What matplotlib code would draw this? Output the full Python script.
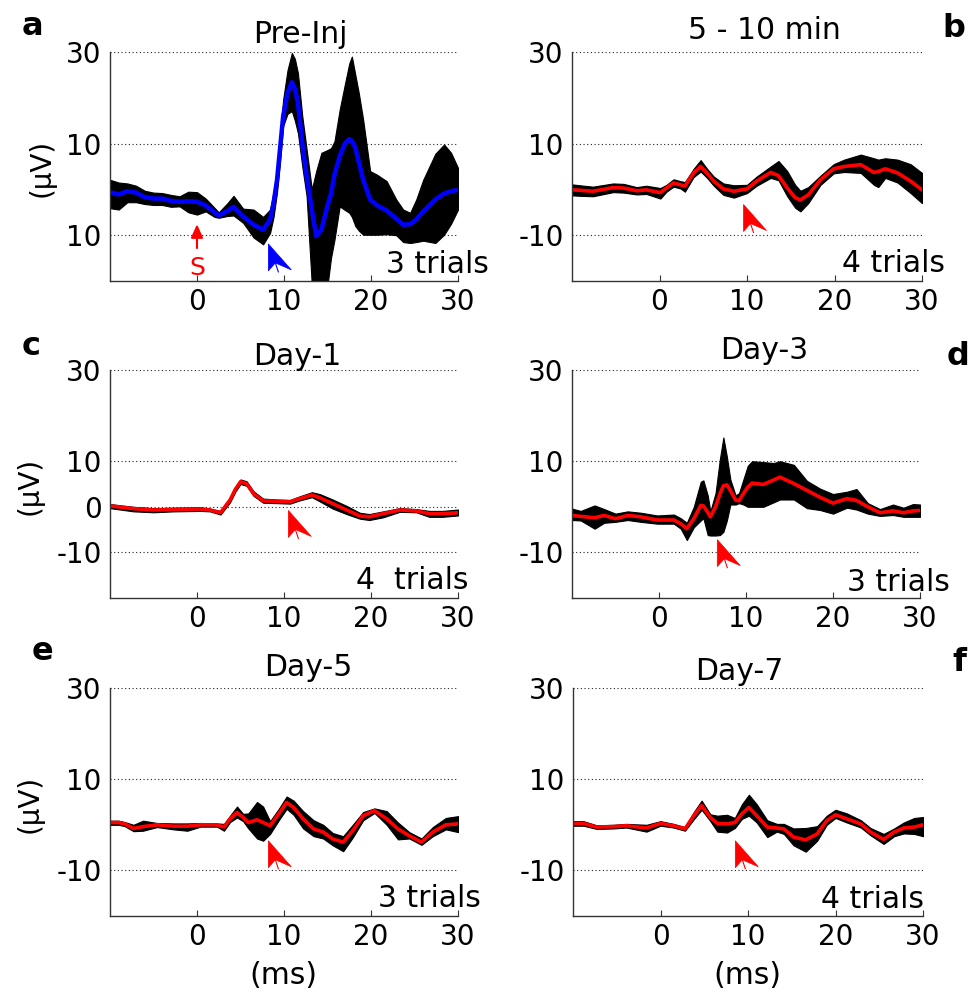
import numpy as np
import matplotlib
matplotlib.use("Agg")
import matplotlib.pyplot as plt
from matplotlib.patches import Polygon
from matplotlib import transforms

plt.rcParams['font.family'] = ['DejaVu Sans']

# ---------------- data (time in ms, amplitude in uV) ----------------
t_a = [-10, -9, -8, -7, -6, -5, -4, -3, -2, -1, 0, 1, 2, 2.5, 3.5, 4.2, 5.3, 6.5, 7.6, 8.4,
       8.8, 9.2, 9.55, 9.9, 10.4, 10.9, 11.25, 11.6, 12.1, 12.6, 13.2, 13.7, 14.3, 15.0, 15.4,
       15.8, 16.4, 17.0, 17.5, 17.8, 18.2, 18.6, 19.1, 19.9, 20.7, 21.8, 22.9, 23.7, 24.5, 25.2,
       26.0, 27.4, 28.4, 29.2, 30]
mean_a = [-0.6, -1.1, -0.4, -0.7, -1.7, -2.0, -2.0, -2.5, -2.7, -2.6, -2.7, -3.5, -5.0, -5.7, -4.7,
          -3.8, -5.9, -7.7, -8.8, -6.6, -3.0, 2.1, 9.0, 16.0, 21.0, 23.4, 22.0, 18.9, 10.1, 2.9,
          -4.5, -10.2, -8.8, -3.5, -1.0, 3.2, 7.2, 10.0, 11.0, 10.6, 9.1, 6.0, 2.1, -2.2, -3.5,
          -4.6, -6.4, -7.7, -7.6, -6.6, -4.8, -2.2, -0.9, -0.4, -0.1]
lo_a = [-4.1, -4.4, -2.8, -2.8, -3.2, -3.4, -3.4, -3.8, -3.7, -5.0, -5.5, -4.8, -6.0, -6.2, -5.8,
        -5.7, -7.3, -10.5, -12.0, -9.5, -6.0, -0.6, 6.0, 13.8, 16.5, 17.1, 15.0, 12.3, 5.0, -1.5,
        -21, -21, -21, -21, -15, -11, -3.7, -4.5, -5.1, -6.0, -8.0, -9.0, -9.9, -9.9, -9.9,
        -9.8, -10.0, -11.5, -11.7, -11.5, -11.2, -11.7, -9.9, -7.5, -4.4]
hi_a = [2.1, 1.5, 1.3, 0.8, -0.3, -0.7, -0.8, -1.2, -1.5, -0.5, -0.6, -2.0, -4.0, -5.0, -3.0,
        -1.4, -4.2, -4.4, -6.0, -4.4, -0.5, 3.6, 12.0, 19.6, 26.0, 29.8, 28.5, 25.4, 16.0, 8.7,
        0.0, 4.0, 8.0, 8.6, 9.0, 10.5, 17.4, 23.0, 27.5, 29.0, 25.0, 21.0, 15.2, 4.0, 3.2, 1.8,
        -2.2, -4.4, -5.1, -2.2, 2.1, 7.8, 9.8, 8.0, 4.7]

t_b = [-10, -9.1, -7.6, -5.3, -4.1, -2.6, -1.5, 0.1, 0.8, 1.6, 2.4, 2.9, 3.9, 4.7, 5.4, 6.2,
       7.3, 8.5, 10.0, 11.1, 12.7, 13.6, 14.6, 15.5, 16.1, 17.0, 18.4, 19.9, 21.1, 23.0, 24.5,
       25.0, 25.8, 27.2, 28.7, 30.0]
mean_b = [-0.1, -0.2, -0.4, 0.4, 0.3, -0.3, -0.1, -0.7, 0.3, 1.4, 1.0, 0.7, 3.6, 5.0, 3.6, 1.8,
          0.1, -0.4, 0.1, 1.8, 3.7, 3.0, 0.3, -1.8, -2.3, -1.2, 2.1, 4.5, 5.0, 5.4, 3.7, 3.9,
          4.5, 3.6, 1.8, -0.1]
lo_b = [-1.3, -1.4, -1.5, -0.6, -0.7, -1.1, -1.0, -2.0, -0.5, 0.6, 0.2, -0.5, 2.7, 3.9, 2.6, 0.8,
        -1.2, -1.8, -0.8, 0.8, 2.5, 2.0, -1.5, -4.0, -4.8, -3.0, 1.0, 3.5, 3.8, 3.6, 1.0, 0.5,
        2.5, 1.5, -0.8, -3.0]
hi_b = [1.1, 0.9, 0.6, 1.3, 1.2, 0.5, 0.8, 0.3, 1.0, 2.2, 1.8, 1.6, 4.5, 6.4, 4.6, 2.8, 1.3,
        0.9, 1.0, 2.8, 5.0, 6.2, 4.0, 1.0, -0.3, 0.5, 3.0, 5.5, 6.5, 7.6, 6.8, 6.5, 6.8, 6.5,
        5.5, 3.6]

t_c = [-10, -7.3, -5, -2.7, 0.4, 1.5, 2.7, 3.8, 4.4, 5.0, 5.7, 6.1, 6.5, 7.6, 9.2, 10.7, 11.8,
       13.2, 14.1, 15.6, 17.2, 18.7, 19.8, 21.4, 23.3, 25.2, 26.7, 28.2, 30]
mean_c = [0.2, -0.4, -0.7, -0.6, -0.5, -0.7, -1.3, 1.5, 3.8, 5.5, 5.1, 4.0, 2.9, 1.3, 1.2, 1.1,
          1.8, 2.6, 2.0, 0.7, -0.7, -2.0, -2.2, -1.5, -0.7, -0.9, -1.5, -1.5, -1.3]
lo_c = [-0.3, -1.0, -1.2, -1.0, -0.9, -1.0, -1.7, 1.0, 3.3, 5.0, 4.6, 3.5, 2.4, 0.9, 0.8, 0.7,
        1.4, 2.1, 1.2, -0.4, -1.6, -2.6, -2.9, -2.3, -1.1, -1.2, -2.2, -2.2, -1.9]
hi_c = [0.6, 0.0, -0.3, -0.2, -0.1, -0.4, -0.9, 2.0, 4.3, 6.0, 5.6, 4.5, 3.4, 1.8, 1.6, 1.5, 2.3,
        3.2, 2.8, 1.6, 0.2, -1.3, -1.6, -1.0, -0.3, -0.5, -0.9, -0.9, -0.6]

t_d = [-10, -9.0, -7.4, -6.3, -5.0, -3.6, -2.1, -0.2, 1.7, 2.5, 3.2, 4.0, 4.8, 5.1, 5.6, 5.9,
       6.5, 7.0, 7.4, 7.8, 8.2, 8.8, 9.2, 9.7, 10.2, 10.7, 12.0, 13.2, 13.9, 15.5, 17.0, 18.5,
       20.0, 21.6, 22.7, 24.0, 25.4, 26.9, 28.1, 29.2, 30]
mean_d = [-1.9, -2.1, -2.4, -1.9, -2.6, -1.9, -2.2, -2.9, -2.9, -3.7, -4.8, -2.6, 0.3, 0.2, -1.2,
          -2.2, 0.0, 2.8, 4.6, 4.8, 3.6, 1.5, 1.3, 2.9, 4.3, 5.2, 4.9, 5.9, 6.5, 5.1, 3.6, 2.1,
          0.8, 1.8, 1.4, 0.0, -1.3, -0.9, -1.3, -0.9, -0.8]
lo_d = [-2.9, -3.0, -4.8, -3.5, -3.3, -2.9, -3.3, -3.7, -3.7, -4.8, -7.3, -4.5, -3.0, -2.5, -6.2,
        -6.3, -6.3, -6.2, -5.5, -3.0, 0.5, 0.5, 0.8, 0.5, 0.0, 0.0, 0.0, 1.0, 1.6, 1.6, -0.3,
        -0.7, -1.5, -0.2, -0.6, -1.5, -2.0, -1.8, -2.2, -2.2, -2.2]
hi_d = [-0.4, -0.9, 0.3, -0.5, -1.5, -1.0, -1.3, -1.9, -1.7, -2.5, -3.5, 0.0, 5.5, 5.8, 2.5, -1.0,
        3.0, 10.5, 15.2, 11.0, 6.0, 2.5, 3.0, 6.0, 9.0, 10.0, 9.8, 9.6, 10.0, 9.2, 5.7, 4.0,
        2.8, 3.3, 3.9, 0.8, -0.5, 0.5, -0.2, 0.6, 0.5]

t_e = [-10, -9.0, -8.3, -7.3, -6.2, -4.6, -2.7, -1.1, 0.4, 2.3, 3.1, 3.8, 4.6, 5.3, 5.9, 6.9,
       7.6, 8.4, 9.4, 10.3, 11.1, 12.2, 13.4, 14.5, 15.6, 16.8, 17.9, 19.1, 20.4, 21.8, 23.1,
       24.4, 25.8, 27.1, 28.6, 30]
mean_e = [0.5, 0.5, 0.2, -0.8, -0.4, 0.0, -0.3, -0.3, 0.0, 0.0, -0.5, 1.3, 2.7, 1.6, 0.5, 1.1,
          0.5, -0.2, 2.4, 4.9, 3.8, 1.3, -0.9, -1.6, -3.1, -3.8, -1.3, 2.0, 3.1, 1.3, -0.9, -2.4,
          -3.8, -1.6, 0.0, 0.2]
lo_e = [0.0, 0.0, -0.3, -1.4, -1.3, -0.5, -1.0, -1.3, -0.4, -0.4, -1.3, 0.6, 1.6, 0.8, -0.8,
        -3.0, -3.5, -2.0, 1.0, 3.5, 2.2, -0.8, -2.5, -3.0, -4.5, -5.8, -2.8, 1.0, 2.6, 0.0,
        -3.2, -3.0, -4.4, -2.5, -1.0, -1.6]
hi_e = [0.9, 0.9, 0.6, 0.0, 0.9, 0.4, 0.3, 0.3, 0.4, 0.3, 0.2, 2.0, 4.0, 2.4, 2.5, 5.0, 4.0, 0.8,
        3.5, 6.2, 5.3, 3.0, 1.0, 0.0, -1.8, -2.5, 0.0, 2.8, 3.6, 3.0, 0.5, -1.6, -3.0, -0.5, 1.5,
        1.9]

t_f = [-10, -8.8, -7.3, -5.4, -3.9, -1.6, 0.0, 1.5, 2.8, 3.8, 4.7, 5.7, 6.5, 7.6, 8.5, 9.3, 10.1,
       11.0, 12.2, 13.3, 14.1, 15.2, 16.6, 17.9, 19.0, 20.0, 21.3, 22.9, 24.0, 25.5, 26.7, 27.8,
       29.0, 30]
mean_f = [0.3, 0.3, -0.5, -0.4, -0.2, -0.7, 0.3, -0.2, -0.9, 2.0, 4.2, 1.6, 0.3, 0.2, 0.5, 2.4,
          3.8, 2.0, -0.5, -0.7, -0.9, -2.7, -3.3, -2.0, 0.9, 2.2, 1.3, 0.2, -1.6, -3.2, -1.6,
          -0.7, -0.5, 0.0]
lo_f = [-0.2, -0.2, -0.9, -0.8, -0.6, -1.5, -0.2, -0.6, -1.3, 1.2, 3.3, 0.8, -1.5, -1.7, -0.7,
        1.3, 2.0, 0.5, -2.7, -1.5, -2.0, -4.5, -5.9, -3.5, 0.0, 1.5, 0.5, -0.6, -2.3, -4.2, -2.5,
        -1.9, -2.0, -2.5]
hi_f = [0.8, 0.8, -0.1, 0.0, 0.2, 0.0, 0.8, 0.2, -0.5, 2.8, 5.3, 2.3, 2.0, 2.2, 1.5, 4.5, 6.6,
        4.5, 1.0, 0.2, 0.2, -0.8, -0.7, -0.3, 2.0, 3.3, 2.5, 1.0, -0.7, -2.0, -0.8, 0.5, 1.5, 1.7]

titles = ["Pre-Inj", "5 - 10 min", "Day-1", "Day-3", "Day-5", "Day-7"]
letters = ["a", "b", "c", "d", "e", "f"]
trial_labels = ["3 trials", "4 trials", "4  trials", "3 trials", "3 trials", "4 trials"]
ytick_values = [[30, 10, -10], [30, 10, -10], [30, 10, 0, -10],
                [30, 10, -10], [30, 10, -10], [30, 10, -10]]
ytick_labels = [["30", "10", "10"], ["30", "10", "-10"], ["30", "10", "0", "-10"],
                ["30", "10", "-10"], ["30", "10", "-10"], ["30", "10", "-10"]]
xtick_values = [0, 10, 20, 30]
# arrowhead tip positions (ms, uV) marking the response onset
marker_tips = [(8.2, -11.9), (9.6, -3.3), (10.5, -0.8), (6.7, -7.2), (8.2, -3.5), (8.55, -3.5)]
trace_colors = ["#0000ff", "#ff0000", "#ff0000", "#ff0000", "#ff0000", "#ff0000"]

series = [(t_a, mean_a, lo_a, hi_a), (t_b, mean_b, lo_b, hi_b), (t_c, mean_c, lo_c, hi_c),
          (t_d, mean_d, lo_d, hi_d), (t_e, mean_e, lo_e, hi_e), (t_f, mean_f, lo_f, hi_f)]

# ---------------- layout (pixel boxes: left, top, right, bottom) ----------------
W, H = 970, 999
fig = plt.figure(figsize=(W / 100, H / 100), dpi=100)
fig.patch.set_facecolor("white")


def fx(px):
    return px / W


def fy(py):
    return 1 - py / H


boxes = [(110, 52, 458, 281), (572, 52, 922, 281),
         (110, 370, 458, 598), (572, 370, 920, 598),
         (110, 688, 458, 916), (573, 688, 923, 916)]

title_pos = [(300, 43), (764, 39), (297, 365), (764, 359), (308, 676), (739, 680)]
letter_pos = [(22, 35), (942, 37), (22, 355), (947, 365), (32, 660), (952, 671)]
trial_pos = [(489, 273), (945, 272), (469, 589), (950, 591), (481, 907), (924, 908)]
ylabel_pos = [(42, 168), None, (30, 486), None, (30, 804), None]
xlabel_pos = [None, None, None, None, (283, 975), (747, 975)]

FS = 20
FS_TEXT = 21.5
spine_col = "#333333"

# arrowhead outline in pixels relative to its tip (notched, pointing up-left)
head_shape = np.array([[0, 0], [0, -27], [7, -19], [23, -26]]) / 100.0
tail_shape = np.array([[7, -19], [10, -28]]) / 100.0


def draw_marker(ax, x, y, color):
    tr = fig.dpi_scale_trans + transforms.ScaledTranslation(x, y, ax.transData)
    ax.add_patch(Polygon(head_shape, closed=True, transform=tr, facecolor=color,
                         edgecolor=color, lw=0.5, zorder=6, clip_on=False))
    ax.plot(tail_shape[:, 0], tail_shape[:, 1], color=color, lw=0.8, transform=tr,
            zorder=6, clip_on=False)


for i, (t, m, lo, hi) in enumerate(series):
    l, tp, r, b = boxes[i]
    ax = fig.add_axes([fx(l), fy(b), fx(r - l), (b - tp) / H])
    ax.set_xlim(-10, 30)
    ax.set_ylim(-20, 30)
    ax.set_facecolor("white")

    for yv in ytick_values[i]:
        ax.axhline(yv, color="#222222", lw=0.8, linestyle=(0, (1, 2.3)), zorder=1)

    ax.fill_between(t, lo, hi, color="black", lw=0.8, edgecolor="black", zorder=2)
    ax.plot(t, m, color=trace_colors[i], lw=3.2 if i == 0 else 2.6,
            solid_joinstyle="round", solid_capstyle="round", zorder=3)

    for s in ("top", "right"):
        ax.spines[s].set_visible(False)
    for s in ("left", "bottom"):
        ax.spines[s].set_color(spine_col)
        ax.spines[s].set_linewidth(1.0)
        ax.spines[s].set_zorder(4)

    ax.set_xticks(xtick_values)
    ax.set_xticklabels([str(v) for v in xtick_values])
    ax.set_yticks(ytick_values[i])
    ax.set_yticklabels(ytick_labels[i])
    ax.tick_params(axis="x", direction="in", length=4, width=0.8, color=spine_col,
                   labelsize=FS, pad=5)
    ax.tick_params(axis="y", direction="in", length=0, labelsize=FS, pad=6)

    mx, my = marker_tips[i]
    draw_marker(ax, mx, my, trace_colors[i])

    if i == 0:
        ax.annotate("", xy=(0, -7.6), xytext=(0, -12.8),
                    arrowprops=dict(arrowstyle="-|>,head_length=0.8,head_width=0.36",
                                    mutation_scale=10, color="#ff0000", lw=1.5,
                                    shrinkA=0, shrinkB=0), zorder=6)
        fig.text(fx(197), fy(275), "S", color="#ff0000", fontsize=18,
                 ha="center", va="baseline")

    fig.text(fx(title_pos[i][0]), fy(title_pos[i][1]), titles[i], fontsize=FS_TEXT,
             ha="center", va="baseline")
    fig.text(fx(letter_pos[i][0]), fy(letter_pos[i][1]), letters[i], fontsize=23,
             fontweight="bold", ha="left", va="baseline")
    fig.text(fx(trial_pos[i][0]), fy(trial_pos[i][1]), trial_labels[i], fontsize=FS_TEXT,
             ha="right", va="baseline", zorder=7)
    if ylabel_pos[i] is not None:
        fig.text(fx(ylabel_pos[i][0]), fy(ylabel_pos[i][1]), "(\u03bcV)", fontsize=FS,
                 rotation=90, ha="center", va="center")
    if xlabel_pos[i] is not None:
        fig.text(fx(xlabel_pos[i][0]), fy(xlabel_pos[i][1]), "(ms)", fontsize=FS_TEXT,
                 ha="center", va="center")

fig.savefig("out.png", dpi=100, facecolor="white")
